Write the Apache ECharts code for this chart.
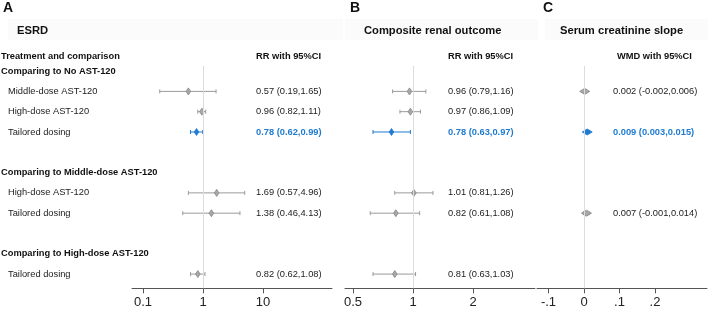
<!DOCTYPE html>
<html>
<head>
<meta charset="utf-8">
<script src="https://cdn.jsdelivr.net/npm/echarts@6/dist/echarts.min.js"></script>
<style>
html, body { margin: 0; padding: 0; background: #fff; }
#main { width: 708px; height: 310px; }
</style>
</head>
<body>
<div id="main"></div>
<script>
// rows, top to bottom
var rowLabels = ['Comparing to No AST-120', 'Middle-dose AST-120', 'High-dose AST-120', 'Tailored dosing', '',
    'Comparing to Middle-dose AST-120', 'High-dose AST-120', 'Tailored dosing', '',
    'Comparing to High-dose AST-120', 'Tailored dosing'];
var groupRows = [0, 5, 9];
var highlightRow = 3;

// ESRD, RR with 95%CI
var esrdEst = [null, 0.57, 0.96, 0.78, null, null, 1.69, 1.38, null, null, 0.82];
var esrdLo  = [null, 0.19, 0.82, 0.62, null, null, 0.57, 0.46, null, null, 0.62];
var esrdHi  = [null, 1.65, 1.11, 0.99, null, null, 4.96, 4.13, null, null, 1.08];

// Composite renal outcome, RR with 95%CI
var compEst = [null, 0.96, 0.97, 0.78, null, null, 1.01, 0.82, null, null, 0.81];
var compLo  = [null, 0.79, 0.86, 0.63, null, null, 0.81, 0.61, null, null, 0.63];
var compHi  = [null, 1.16, 1.09, 0.97, null, null, 1.26, 1.08, null, null, 1.03];

// Serum creatinine slope, WMD with 95%CI
var scrEst = [null, 0.002, null, 0.009, null, null, null, 0.007, null, null, null];
var scrLo  = [null, -0.002, null, 0.003, null, null, null, -0.001, null, null, null];
var scrHi  = [null, 0.006, null, 0.015, null, null, null, 0.014, null, null, null];

// axis ticks
var ticksA = [0.1, 1, 10];
var tickLabelsA = ['0.1', '1', '10'];
var ticksB = [0.5, 1, 2];
var tickLabelsB = ['0.5', '1', '2'];
var ticksC = [-0.1, 0, 0.1, 0.2];
var tickLabelsC = ['-.1', '0', '.1', '.2'];

var FONT = '"Liberation Sans", Arial, sans-serif';
var BLUE = '#1f7bd0';
var GRAY = '#9a9a9a';
var TXT = '#222';

var chart = echarts.init(document.getElementById('main'));

function ident(v) { return v; }

function buildData(est, lo, hi, f) {
    var out = [];
    for (var i = 0; i < est.length; i++) {
        if (est[i] == null) continue;
        out.push([i, f(est[i]), f(lo[i]), f(hi[i])]);
    }
    return out;
}

function valueText(est, lo, hi, row, dec) {
    return est[row].toFixed(dec) + ' (' + lo[row].toFixed(dec) + ',' + hi[row].toFixed(dec) + ')';
}

// error bar + diamond + value text
function makeRender(est, lo, hi, dec, textX, dw, dh) {
    return function (params, api) {
        var row = api.value(0);
        var p = api.coord([api.value(1), row]);
        var pl = api.coord([api.value(2), row]);
        var ph = api.coord([api.value(3), row]);
        var hl = row === highlightRow;
        var col = hl ? BLUE : GRAY;
        var y = p[1];
        return {
            type: 'group',
            children: [
                { type: 'line', shape: { x1: pl[0], y1: y, x2: ph[0], y2: y }, style: { stroke: col, lineWidth: 1 } },
                { type: 'line', shape: { x1: pl[0], y1: y - 2, x2: pl[0], y2: y + 2 }, style: { stroke: col, lineWidth: 1 } },
                { type: 'line', shape: { x1: ph[0], y1: y - 2, x2: ph[0], y2: y + 2 }, style: { stroke: col, lineWidth: 1 } },
                {
                    type: 'polygon',
                    shape: { points: [[p[0] - dw, y], [p[0], y - dh], [p[0] + dw, y], [p[0], y + dh]] },
                    style: { fill: hl ? BLUE : '#a8a8a8', stroke: hl ? BLUE : '#858585', lineWidth: 0.8 }
                },
                {
                    type: 'text',
                    style: {
                        x: textX, y: y, text: valueText(est, lo, hi, row, dec),
                        fill: hl ? BLUE : TXT,
                        font: (hl ? 'bold ' : '') + '9.3px ' + FONT,
                        verticalAlign: 'middle', align: 'left'
                    }
                }
            ]
        };
    };
}

var labelData = [];
rowLabels.forEach(function (l, i) { if (l) labelData.push([0, i]); });

function xAxisFor(idx, min, max, ticks, labels, f) {
    var vals = ticks.map(f);
    return {
        gridIndex: idx, type: 'value', min: min, max: max, position: 'bottom',
        axisLine: { show: true, onZero: false, lineStyle: { color: '#555', width: 1 } },
        axisTick: { show: true, length: 5, lineStyle: { color: '#555' }, customValues: vals },
        axisLabel: {
            customValues: vals, color: TXT, fontSize: 13, fontFamily: FONT, margin: 8,
            formatter: function (v) {
                for (var k = 0; k < vals.length; k++) {
                    if (Math.abs(vals[k] - v) < 1e-6) return labels[k];
                }
                return '';
            }
        },
        splitLine: { show: false }
    };
}

function yAxisFor(idx) {
    return { gridIndex: idx, type: 'value', min: -0.25, max: 10.7, inverse: true, show: false };
}

function refLine() {
    return {
        silent: true, symbol: 'none', label: { show: false },
        lineStyle: { color: '#dcdcdc', type: 'solid', width: 1 },
        data: [{ xAxis: 0 }]
    };
}

function txt(x, y, text, font, color) {
    return { type: 'text', x: x, y: y, style: { text: text, font: font, fill: color || TXT, verticalAlign: 'middle' } };
}

var option = {
    animation: false,
    grid: [
        { left: 132, width: 200, top: 66, height: 222.3 },
        { left: 345, width: 190, top: 66, height: 222.3 },
        { left: 537, width: 170, top: 66, height: 222.3 }
    ],
    xAxis: [
        xAxisFor(0, -1.1833, 2.15, ticksA, tickLabelsA, Math.log10),
        xAxisFor(1, -0.3412, 0.6121, ticksB, tickLabelsB, Math.log10),
        xAxisFor(2, -0.1324, 0.3465, ticksC, tickLabelsC, ident)
    ],
    yAxis: [yAxisFor(0), yAxisFor(1), yAxisFor(2)],
    graphic: [
        { type: 'rect', shape: { x: 8, y: 19, width: 335, height: 21 }, style: { fill: '#fbfbfb' }, z: -1 },
        { type: 'rect', shape: { x: 345, y: 19, width: 193, height: 21 }, style: { fill: '#fbfbfb' }, z: -1 },
        { type: 'rect', shape: { x: 545, y: 19, width: 163, height: 21 }, style: { fill: '#fbfbfb' }, z: -1 },
        txt(3, 8, 'A', 'bold 14px ' + FONT, '#111'),
        txt(350, 8, 'B', 'bold 14px ' + FONT, '#111'),
        txt(543, 8, 'C', 'bold 14px ' + FONT, '#111'),
        txt(17, 30.5, 'ESRD', 'bold 11.2px ' + FONT, '#111'),
        txt(364, 30.5, 'Composite renal outcome', 'bold 11.2px ' + FONT, '#111'),
        txt(560, 30.5, 'Serum creatinine slope', 'bold 11.2px ' + FONT, '#111'),
        txt(1, 56.7, 'Treatment and comparison', 'bold 9.3px ' + FONT, '#111'),
        txt(256, 56.7, 'RR with 95%CI', 'bold 9.3px ' + FONT, '#111'),
        txt(448, 56.7, 'RR with 95%CI', 'bold 9.3px ' + FONT, '#111'),
        txt(617, 56.7, 'WMD with 95%CI', 'bold 9.3px ' + FONT, '#111')
    ],
    series: [
        {
            type: 'custom', name: 'labels', xAxisIndex: 0, yAxisIndex: 0,
            encode: { x: 0, y: 1 }, data: labelData, silent: true,
            renderItem: function (params, api) {
                var row = api.value(1);
                var y = api.coord([0, row])[1];
                var isGroup = groupRows.indexOf(row) >= 0;
                return {
                    type: 'text',
                    style: {
                        x: isGroup ? 1 : 8, y: y, text: rowLabels[row],
                        fill: isGroup ? '#111' : TXT,
                        font: (isGroup ? 'bold ' : '') + '9.3px ' + FONT,
                        verticalAlign: 'middle'
                    }
                };
            }
        },
        {
            type: 'custom', name: 'ESRD', xAxisIndex: 0, yAxisIndex: 0, silent: true,
            encode: { x: 1, y: 0 },
            data: buildData(esrdEst, esrdLo, esrdHi, Math.log10),
            renderItem: makeRender(esrdEst, esrdLo, esrdHi, 2, 256, 2.3, 3.5),
            markLine: refLine()
        },
        {
            type: 'custom', name: 'Composite', xAxisIndex: 1, yAxisIndex: 1, silent: true,
            encode: { x: 1, y: 0 },
            data: buildData(compEst, compLo, compHi, Math.log10),
            renderItem: makeRender(compEst, compLo, compHi, 2, 448, 2.3, 3.5),
            markLine: refLine()
        },
        {
            type: 'custom', name: 'SCr', xAxisIndex: 2, yAxisIndex: 2, silent: true,
            encode: { x: 1, y: 0 },
            data: buildData(scrEst, scrLo, scrHi, ident),
            renderItem: makeRender(scrEst, scrLo, scrHi, 3, 613, 5, 3),
            markLine: refLine()
        }
    ]
};

chart.setOption(option);
</script>
</body>
</html>
